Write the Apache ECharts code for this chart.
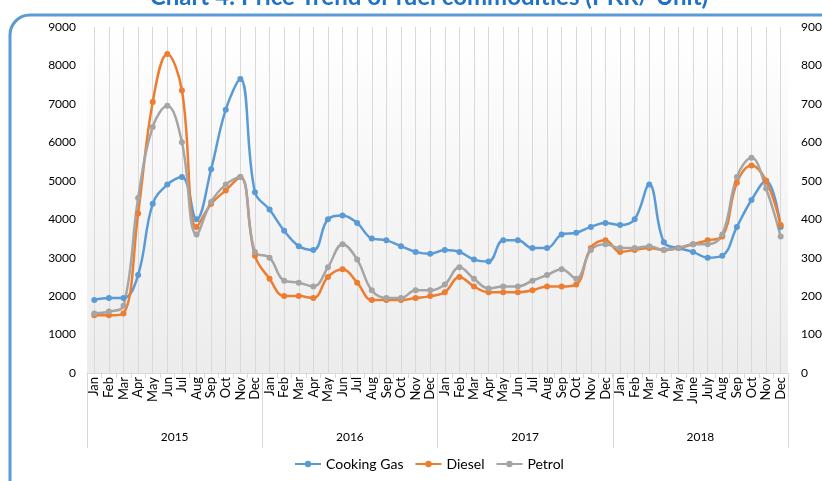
<!DOCTYPE html>
<html>
<head>
<meta charset="utf-8">
<script src="https://cdn.jsdelivr.net/npm/echarts@6/dist/echarts.min.js"></script>
<style>
html,body{margin:0;padding:0;background:#fff;}
#chart{width:822px;height:481px;}
</style>
</head>
<body>
<div id="chart"></div>
<script>
var months = ['Jan','Feb','Mar','Apr','May','Jun','Jul','Aug','Sep','Oct','Nov','Dec',
  'Jan','Feb','Mar','Apr','May','Jun','Jul','Aug','Sep','Oct','Nov','Dec',
  'Jan','Feb','Mar','Apr','May','Jun','Jul','Aug','Sep','Oct','Nov','Dec',
  'Jan','Feb','Mar','Apr','May','June','July','Aug','Sep','Oct','Nov','Dec'];
var years = ['2015','2016','2017','2018'];
var yTicks = [0,1000,2000,3000,4000,5000,6000,7000,8000,9000];

var cookingGas = [1900,1950,1950,2550,4400,4900,5100,4000,5300,6850,7650,4700,
  4250,3700,3300,3200,4000,4100,3900,3500,3450,3300,3150,3100,
  3200,3150,2950,2900,3450,3450,3250,3250,3600,3650,3800,3900,
  3850,4000,4900,3400,3250,3150,3000,3050,3800,4500,5000,3800];
var diesel = [1500,1500,1550,4150,7050,8300,7350,3800,4400,4750,5100,3050,
  2450,2000,2000,1950,2500,2700,2350,1900,1900,1900,1950,2000,
  2100,2500,2250,2100,2100,2100,2150,2250,2250,2300,3250,3450,
  3150,3200,3250,3200,3250,3350,3450,3550,4950,5400,5000,3850];
var petrol = [1550,1600,1750,4550,6400,6950,6000,3600,4450,4900,5100,3150,
  3000,2400,2350,2250,2750,3350,2950,2150,1950,1950,2150,2150,
  2300,2750,2450,2200,2250,2250,2400,2550,2700,2450,3200,3350,
  3250,3250,3300,3200,3250,3350,3350,3600,5100,5600,4800,3550];

var FONT = 'Lato, "Open Sans", sans-serif';
var chart = echarts.init(document.getElementById('chart'), null, {renderer:'canvas'});

function lineSeries(name, data, color, extra){
  var s = {
    name: name, type: 'line', data: data, smooth: 0.4,
    xAxisIndex: 0, yAxisIndex: 0,
    symbol: 'circle', symbolSize: 6,
    lineStyle: {color: color, width: 2.5},
    itemStyle: {color: color},
    z: 5
  };
  if (extra) for (var k in extra) s[k] = extra[k];
  return s;
}

var gridLines = months.map(function(m, i){ return {xAxis: i}; });
function plain(v){ return String(v); }

var option = {
  animation: false,
  textStyle: {fontFamily: FONT},
  graphic: [
    {type:'rect', shape:{x:10, y:15, width:840, height:500, r:20},
     style:{fill:'none', stroke:'#5B9BD5', lineWidth:3}, z:0},
    {type:'text', x:429, y:-3, style:{text:'Chart 4: Price Trend of fuel commodities (PKR/ Unit)',
      fill:'#1F72C4', font:'bold 24px ' + FONT, textAlign:'center', textVerticalAlign:'middle'}, z:10}
  ],
  grid: {
    left: 87, right: 34, top: 27, bottom: 108, show: true, borderWidth: 0,
    containLabel: false, outerBoundsMode: 'none',
    backgroundColor: new echarts.graphic.LinearGradient(0,0,0,1,[
      {offset:0, color:'#ffffff'},{offset:1, color:'#ececec'}])
  },
  legend: {
    top: 452, left: 289,
    itemWidth: 26, itemHeight: 8, itemGap: 11,
    textStyle: {fontFamily: FONT, fontSize: 14, color: '#000'},
    lineStyle: {width: 2},
    data: ['Cooking Gas','Diesel','Petrol']
  },
  xAxis: [
    {
      type: 'category', data: months, boundaryGap: true, position: 'bottom',
      axisLine: {lineStyle: {color: '#d9d9d9'}},
      axisTick: {show: true, length: 5, lineStyle: {color: '#d9d9d9'}},
      axisLabel: {rotate: 90, interval: 0, fontSize: 13, color: '#000', fontFamily: FONT, margin: 4},
      splitLine: {show: false}
    },
    {
      type: 'category', data: years, boundaryGap: true, position: 'bottom',
      axisLine: {show: false},
      axisTick: {show: true, length: 75, lineStyle: {color: '#d9d9d9'}},
      axisLabel: {fontSize: 12, color: '#000', fontFamily: FONT, margin: 58},
      splitLine: {show: false}
    }
  ],
  yAxis: [
    {
      type: 'value', min: yTicks[0], max: yTicks[yTicks.length-1], interval: 1000,
      axisLine: {show: false}, axisTick: {show: false},
      axisLabel: {fontSize: 12, color: '#000', fontFamily: FONT, margin: 11, formatter: plain},
      splitLine: {show: false}
    },
    {
      type: 'value', position: 'right', min: yTicks[0], max: yTicks[yTicks.length-1], interval: 1000,
      axisLine: {show: false}, axisTick: {show: false},
      axisLabel: {fontSize: 12, color: '#000', fontFamily: FONT, margin: 13, formatter: plain},
      splitLine: {show: false}
    }
  ],
  series: [
    lineSeries('Cooking Gas', cookingGas, '#5B9BD5', {
      markLine: {silent: true, symbol: ['none','none'], label: {show: false},
        lineStyle: {color: '#d9d9d9', width: 1, type: 'solid'}, data: gridLines, z: 1, animation: false}
    }),
    lineSeries('Diesel', diesel, '#ED7D31'),
    lineSeries('Petrol', petrol, '#A5A5A5')
  ]
};
chart.setOption(option);
</script>
</body>
</html>
